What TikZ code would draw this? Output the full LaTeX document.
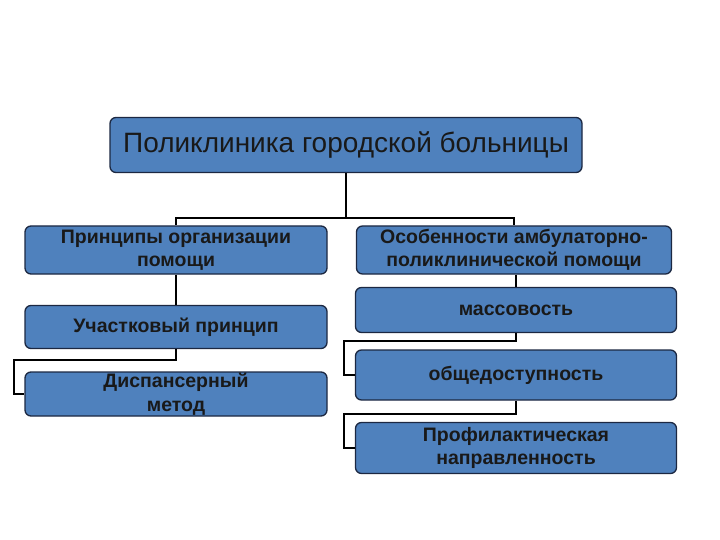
\documentclass[tikz,border=0pt]{standalone}
\usepackage{fontspec}
\setmainfont{Liberation Sans}
\usepackage{xcolor}
\usepackage{tikz}
\usetikzlibrary{calc}

\definecolor{boxblue}{RGB}{79,129,189}
\definecolor{boxedge}{RGB}{28,40,66}

\begin{document}
\begin{tikzpicture}[
  x=1pt,y=-1pt,
  box/.style={rectangle,draw=boxedge,line width=1.3pt,fill=boxblue,rounded corners=6pt,align=center,
    text=black!90,font=\fontsize{19.5}{23.5}\selectfont\bfseries,inner sep=1pt},
  link/.style={line width=2pt,black}
]
\useasboundingbox (0,0) rectangle (720,540);

\node[box,minimum width=472pt,minimum height=55pt,font=\fontsize{28}{32}\selectfont] (poly) at (346,145) {Поликлиника городской больницы};

\node[box,minimum width=302pt,minimum height=48pt] (prin) at (176,250) {Принципы организации\\помощи};
\node[box,minimum width=315pt,minimum height=48pt] (osob) at (514,250) {Особенности амбулаторно-\\поликлинической помощи};

\node[box,minimum width=302pt,minimum height=43pt] (uch) at (176,327) {Участковый принцип};
\node[box,minimum width=302pt,minimum height=44pt] (disp) at (176,394) {Диспансерный\\метод};

\node[box,minimum width=321pt,minimum height=45pt] (mass) at (516,310) {массовость};
\node[box,minimum width=321pt,minimum height=50pt] (obsh) at (516,375) {общедоступность};
\node[box,minimum width=321pt,minimum height=51pt] (prof) at (516,448) {Профилактическая\\направленность};

% top level
\draw[link] (poly.south) -- ++(0,45) coordinate (hub);
\draw[link] (hub) -| (prin.north);
\draw[link] (hub) -| (osob.north);

% left column
\draw[link] (prin.south) -- (uch.north);
\draw[link] (uch.south) -- ++(0,11) -| ([xshift=-10pt]disp.west) -- (disp.west);

% right column
\draw[link] (osob.south -| mass.north) -- (mass.north);
\draw[link] (mass.south) -- ++(0,8) -| ([xshift=-11pt]obsh.west) -- (obsh.west);
\draw[link] (obsh.south) -- ++(0,13) -| ([xshift=-11pt]prof.west) -- (prof.west);
\end{tikzpicture}
\end{document}
